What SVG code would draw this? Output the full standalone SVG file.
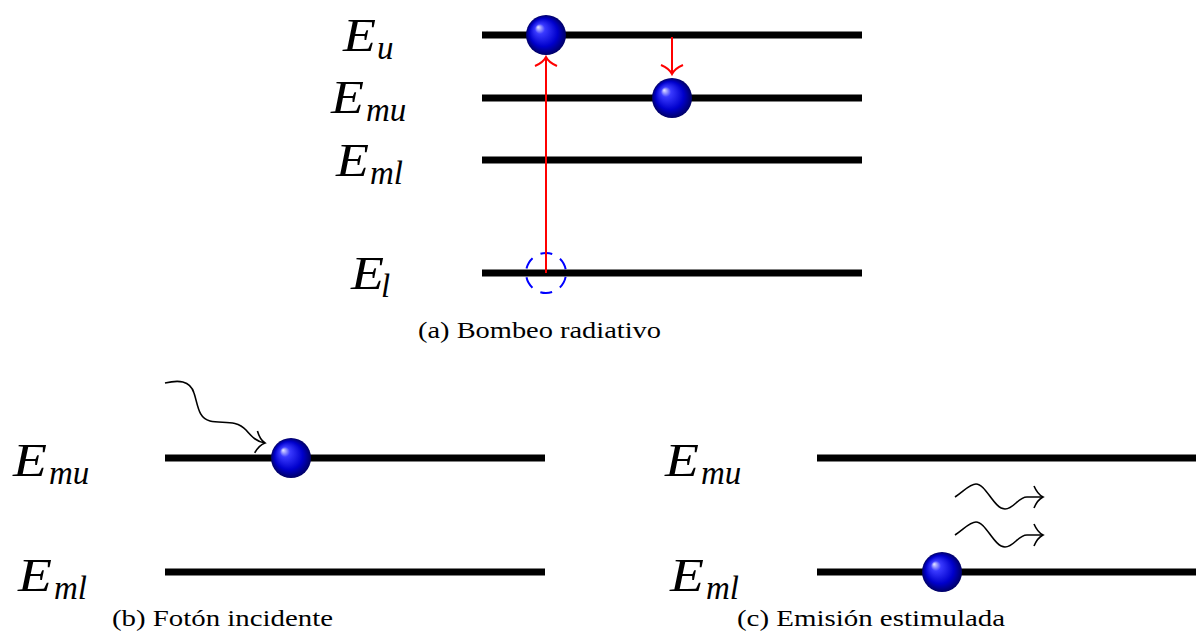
<svg xmlns="http://www.w3.org/2000/svg" width="1196" height="642" viewBox="0 0 1196 642">
<style>
.lvl{stroke:#000;stroke-width:7;fill:none}
.math{font-family:"Liberation Serif",serif;font-style:italic;font-size:47px;fill:#000}
.sub{font-size:33px}
.cap{font-family:"Liberation Serif",serif;font-size:24px;fill:#000}
.red{stroke:#ff0000;stroke-width:2;fill:none}
.wave{stroke:#000;stroke-width:1.6;fill:none}
</style>
<defs>
<radialGradient id="ballg" cx="0.5" cy="0.5" r="0.5" fx="0.3" fy="0.3">
<stop offset="0" stop-color="#e8e8ff"/>
<stop offset="0.25" stop-color="#3a3aff"/>
<stop offset="0.7" stop-color="#0000cc"/>
<stop offset="1" stop-color="#000066"/>
</radialGradient>
<marker id="ar" markerWidth="16" markerHeight="26" refX="0" refY="0" viewBox="-12 -13 16 26" orient="auto" markerUnits="userSpaceOnUse">
<path d="M-9,-11 C-6,-4 -2,-1 0,0 C-2,1 -6,4 -9,11" stroke="#ff0000" stroke-width="2" fill="none"/>
</marker>
<marker id="ak" markerWidth="16" markerHeight="26" refX="0" refY="0" viewBox="-12 -13 16 26" orient="auto" markerUnits="userSpaceOnUse">
<path d="M-9,-11 C-6,-4 -2,-1 0,0 C-2,1 -6,4 -9,11" stroke="#000" stroke-width="1.6" fill="none"/>
</marker>
</defs>
<rect width="1196" height="642" fill="#fff"/>

<g id="panel-a">
<g id="level-Eu"><line class="lvl" x1="482" y1="35" x2="862" y2="35"/><text class="math" x="343" y="51"><tspan textLength="33" lengthAdjust="spacingAndGlyphs">E</tspan><tspan class="sub" x="377" dy="8">u</tspan></text></g>
<g id="level-Emu"><line class="lvl" x1="482" y1="98" x2="862" y2="98"/><text class="math" x="331" y="113"><tspan textLength="33" lengthAdjust="spacingAndGlyphs">E</tspan><tspan class="sub" x="366" dy="8">mu</tspan></text></g>
<g id="level-Eml"><line class="lvl" x1="482" y1="160" x2="862" y2="160"/><text class="math" x="336" y="176"><tspan textLength="33" lengthAdjust="spacingAndGlyphs">E</tspan><tspan class="sub" x="370" dy="8">ml</tspan></text></g>
<g id="level-El"><line class="lvl" x1="482" y1="273" x2="862" y2="273"/><text class="math" x="351" y="289"><tspan textLength="33" lengthAdjust="spacingAndGlyphs">E</tspan><tspan class="sub" x="381" dy="8">l</tspan></text></g>
<g id="hole-a"><circle cx="546" cy="273" r="20" fill="none" stroke="#0000ff" stroke-width="2" stroke-dasharray="12,9" stroke-dashoffset="-25"/></g>
<g id="connectors-a">
<line class="red" x1="546" y1="273" x2="546" y2="57" marker-end="url(#ar)"/>
<line class="red" x1="672" y1="37" x2="672" y2="74" marker-end="url(#ar)"/>
</g>
<g id="ball-a1"><circle cx="546" cy="35" r="20" fill="url(#ballg)"/></g>
<g id="ball-a2"><circle cx="672" cy="98" r="20" fill="url(#ballg)"/></g>
<text id="cap-a" class="cap" x="418" y="338" textLength="243" lengthAdjust="spacingAndGlyphs">(a) Bombeo radiativo</text>
</g>

<g id="panel-b">
<g id="level-b-Emu"><line class="lvl" x1="165" y1="458" x2="545" y2="458"/><text class="math" x="13" y="476"><tspan textLength="34" lengthAdjust="spacingAndGlyphs">E</tspan><tspan class="sub" x="49" dy="8">mu</tspan></text></g>
<g id="level-b-Eml"><line class="lvl" x1="165" y1="572" x2="545" y2="572"/><text class="math" x="18" y="591"><tspan textLength="34" lengthAdjust="spacingAndGlyphs">E</tspan><tspan class="sub" x="54" dy="8">ml</tspan></text></g>
<g id="connectors-b">
<path class="wave" d="M165,383 C178,380 190,380 194,393 C198,405 198,418 210,421 C222,424 236,419 246,430 C252,437 257,442 265,443" marker-end="url(#ak)"/>
</g>
<g id="ball-b"><circle cx="291" cy="458" r="20" fill="url(#ballg)"/></g>
<text id="cap-b" class="cap" x="112" y="626" textLength="221" lengthAdjust="spacingAndGlyphs">(b) Fotón incidente</text>
</g>

<g id="panel-c">
<g id="level-c-Emu"><line class="lvl" x1="817" y1="458" x2="1196" y2="458"/><text class="math" x="665" y="476"><tspan textLength="34" lengthAdjust="spacingAndGlyphs">E</tspan><tspan class="sub" x="701" dy="8">mu</tspan></text></g>
<g id="level-c-Eml"><line class="lvl" x1="817" y1="572" x2="1196" y2="572"/><text class="math" x="670" y="591"><tspan textLength="34" lengthAdjust="spacingAndGlyphs">E</tspan><tspan class="sub" x="706" dy="8">ml</tspan></text></g>
<g id="connectors-c">
<path class="wave" d="M955,497 C965,490 970,484 976,484 C986,484 994,509 1005,509 C1014,509 1018,497 1027,497 L1043,497" marker-end="url(#ak)"/>
<path class="wave" d="M955,535 C965,528 970,522 976,522 C986,522 994,547 1005,547 C1014,547 1018,535 1027,535 L1043,535" marker-end="url(#ak)"/>
</g>
<g id="ball-c"><circle cx="942" cy="572" r="20" fill="url(#ballg)"/></g>
<text id="cap-c" class="cap" x="737" y="626" textLength="268" lengthAdjust="spacingAndGlyphs">(c) Emisión estimulada</text>
</g>
</svg>
